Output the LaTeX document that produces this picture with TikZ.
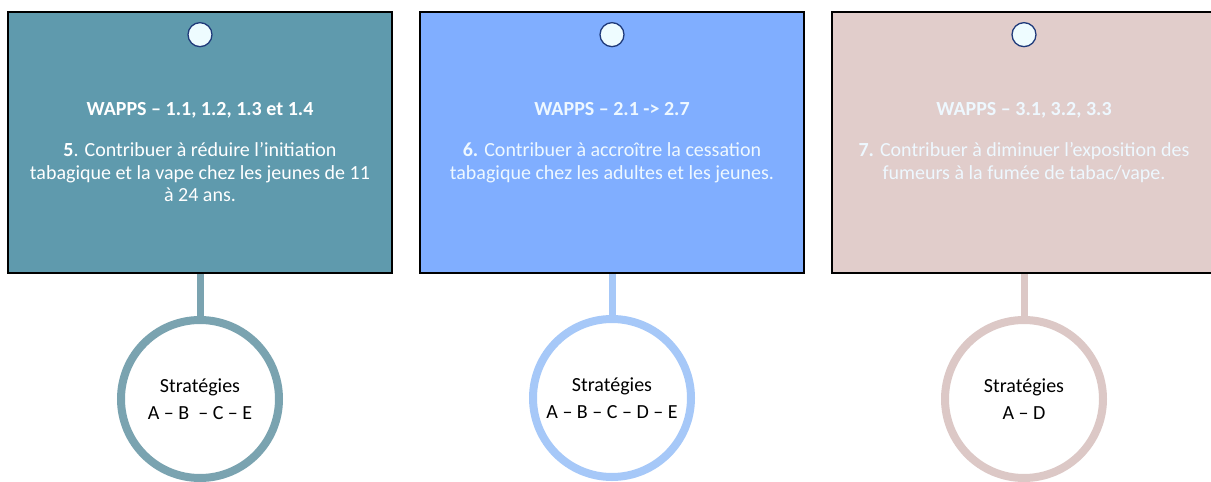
\documentclass[tikz,border=0pt]{standalone}
\usepackage{fontspec}
\setmainfont{Carlito}
\usepackage{tikz}
\usetikzlibrary{positioning}

\definecolor{tealbox}{HTML}{5F9AAD}
\definecolor{bluebox}{HTML}{80AEFF}
\definecolor{pinkbox}{HTML}{E1CDCB}
\definecolor{tealring}{HTML}{7AA3B0}
\definecolor{bluering}{HTML}{A6C8F8}
\definecolor{pinkring}{HTML}{DCC8C6}
\definecolor{pinfill}{HTML}{EEFCFF}
\definecolor{pinline}{HTML}{1F3A7A}
\definecolor{palefont}{HTML}{EEF8FF}

\tikzset{
  goalbox/.style={draw=black, line width=2pt, minimum width=384pt, minimum height=261pt, inner sep=0pt},
  pin/.style={circle, draw=pinline, line width=1.3pt, fill=pinfill, minimum size=24pt, inner sep=0pt},
  goaltext/.style={align=center, inner sep=0pt, font=\fontsize{20}{22.5}\selectfont},
  ring/.style={circle, draw, line width=8pt, fill=white, minimum size=158pt, inner sep=0pt,
    align=center, font=\fontsize{20}{27}\selectfont},
  stem/.style={line width=7pt}
}

\begin{document}
\begin{tikzpicture}[x=1pt,y=-1pt]
\useasboundingbox (0,0) rectangle (1211,482);

% objectif 5
\node[goalbox, fill=tealbox] (box1) at (200,142.5) {};
\node[pin, below=11pt of box1.north] (pin1) {};
\node[goaltext, text=white, below=91pt of box1.north] (text1)
  {\textbf{WAPPS – 1.1, 1.2, 1.3 et 1.4}\\[19pt]
   \textbf{5}. Contribuer à réduire l’initiation\\
   tabagique et la vape chez les jeunes de 11\\
   à 24 ans.};
\node[ring, draw=tealring, below=42pt of box1] (ring1) {Stratégies\\A – B \ – C – E};
\draw[stem, tealring] (box1.south) -- (ring1.north);

% objectif 6
\node[goalbox, fill=bluebox] (box2) at (612,142.5) {};
\node[pin, below=11pt of box2.north] (pin2) {};
\node[goaltext, text=palefont, below=91pt of box2.north] (text2)
  {\textbf{WAPPS – 2.1 -> 2.7}\\[19pt]
   \textbf{6.} Contribuer à accroître la cessation\\
   tabagique chez les adultes et les jeunes.};
\node[ring, draw=bluering, below=41pt of box2] (ring2) {Stratégies\\A – B – C – D – E};
\draw[stem, bluering] (box2.south) -- (ring2.north);

% objectif 7
\node[goalbox, fill=pinkbox] (box3) at (1024,142.5) {};
\node[pin, below=11pt of box3.north] (pin3) {};
\node[goaltext, text=palefont, below=91pt of box3.north] (text3)
  {\textbf{WAPPS – 3.1, 3.2, 3.3}\\[19pt]
   \textbf{7.} Contribuer à diminuer l’exposition des\\
   fumeurs à la fumée de tabac/vape.};
\node[ring, draw=pinkring, below=42pt of box3] (ring3) {Stratégies\\A – D};
\draw[stem, pinkring] (box3.south) -- (ring3.north);

\end{tikzpicture}
\end{document}
